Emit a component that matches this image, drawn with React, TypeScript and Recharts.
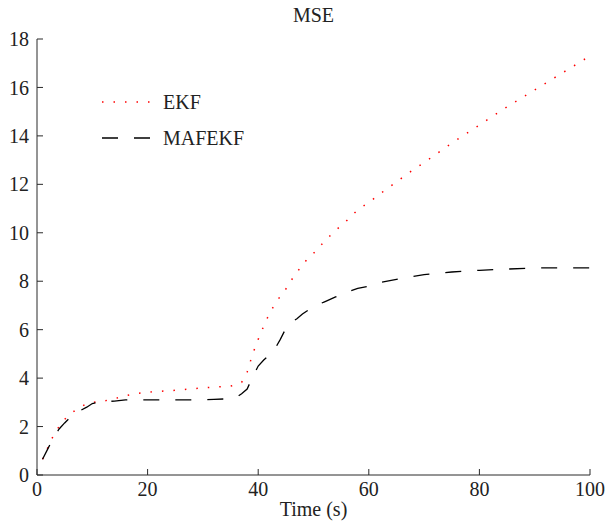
import { LineChart, Line, XAxis, YAxis } from "recharts";

// time samples (s)
const time = [
  1, 2, 3, 4, 5, 6, 7, 8, 9, 10, 12, 14, 16, 18, 20, 24, 28, 32, 35, 36, 37, 38,
  39, 40, 41, 42, 43, 44, 45, 46, 47, 48, 50, 52, 54, 56, 58, 60, 62, 65, 68, 70,
  75, 80, 85, 90, 95, 100,
];

const ekf = [
  0.65, 1.15, 1.65, 2.0, 2.3, 2.52, 2.68, 2.82, 2.95, 3.0, 3.05, 3.15, 3.27, 3.36,
  3.42, 3.48, 3.56, 3.63, 3.67, 3.72, 3.82, 4.25, 5.0, 5.6, 6.15, 6.65, 7.05, 7.38,
  7.68, 8.05, 8.35, 8.7, 9.15, 9.65, 10.1, 10.5, 10.95, 11.25, 11.6, 12.1, 12.6,
  12.9, 13.7, 14.45, 15.2, 15.9, 16.6, 17.3,
];

const mafekf = [
  0.65, 1.1, 1.55, 1.9, 2.15, 2.38, 2.55, 2.68, 2.8, 2.95, 3.03, 3.05, 3.1, 3.1,
  3.1, 3.1, 3.1, 3.12, 3.15, 3.2, 3.35, 3.55, 4.05, 4.5, 4.75, 4.95, 5.2, 5.6,
  6.05, 6.3, 6.45, 6.65, 6.95, 7.15, 7.35, 7.55, 7.7, 7.8, 7.95, 8.08, 8.2, 8.27,
  8.38, 8.45, 8.5, 8.55, 8.55, 8.55,
];

const xTicks = [0, 20, 40, 60, 80, 100];
const yTicks = [0, 2, 4, 6, 8, 10, 12, 14, 16, 18];

const data = time.map((t, i) => ({ t, ekf: ekf[i], mafekf: mafekf[i] }));

const FONT = "Liberation Serif, Times New Roman, serif";
const INK = "#222";
const AXIS = "#2a2a2a";
const EKF_DASH = "1.5 10";
const MAF_DASH = "16 16";

const textStyle = { fontSize: 20, fill: INK, fontFamily: FONT };
const tickStyle = { ...textStyle, style: { fontFamily: FONT } };

export default function App() {
  return (
    <div
      style={{
        position: "absolute",
        left: 0,
        top: 0,
        width: 608,
        height: 521,
        background: "#fff",
        fontFamily: FONT,
      }}
    >
      <LineChart
        width={608}
        height={521}
        data={data}
        margin={{ top: 39, right: 18, left: 0, bottom: 0 }}
        style={{ fontFamily: FONT }}
      >
        <XAxis
          xAxisId="b"
          dataKey="t"
          type="number"
          domain={[0, 100]}
          ticks={xTicks}
          height={46}
          tickSize={-6}
          tickMargin={13}
          stroke={AXIS}
          tick={tickStyle}
          label={{
            value: "Time (s)",
            position: "insideBottom",
            offset: 5,
            style: textStyle,
          }}
        />
        <XAxis
          xAxisId="t"
          dataKey="t"
          type="number"
          orientation="top"
          domain={[0, 100]}
          ticks={xTicks}
          height={0}
          tickSize={-6}
          tick={false}
          stroke={AXIS}
        />
        <YAxis
          yAxisId="l"
          type="number"
          domain={[0, 18]}
          ticks={yTicks}
          width={37}
          tickSize={-6}
          tickMargin={14}
          stroke={AXIS}
          tick={tickStyle}
        />
        <YAxis
          yAxisId="r"
          type="number"
          orientation="right"
          domain={[0, 18]}
          ticks={yTicks}
          width={0}
          tickSize={-6}
          tick={false}
          stroke={AXIS}
        />
        <Line
          xAxisId="b"
          yAxisId="l"
          type="linear"
          dataKey="ekf"
          stroke="#ff0000"
          strokeWidth={1.5}
          strokeDasharray={EKF_DASH}
          dot={false}
          isAnimationActive={false}
        />
        <Line
          xAxisId="b"
          yAxisId="l"
          type="linear"
          dataKey="mafekf"
          stroke="#000"
          strokeWidth={1.3}
          strokeDasharray={MAF_DASH}
          dot={false}
          isAnimationActive={false}
        />
      </LineChart>

      {/* title */}
      <div
        style={{
          position: "absolute",
          left: 37,
          width: 553,
          top: 3,
          textAlign: "center",
          fontSize: 20,
          color: INK,
          lineHeight: "24px",
        }}
      >
        MSE
      </div>

      {/* legend */}
      <svg
        width={200}
        height={70}
        style={{ position: "absolute", left: 95, top: 85, fontFamily: FONT }}
      >
        <line x1={7} y1={17} x2={58} y2={17} stroke="#ff0000" strokeWidth={1.5} strokeDasharray={EKF_DASH} />
        <text x={68} y={24} fontSize={20} fill={INK} fontFamily={FONT}>
          EKF
        </text>
        <line x1={7} y1={53} x2={57} y2={53} stroke="#000" strokeWidth={1.3} strokeDasharray={MAF_DASH} />
        <text x={68} y={60} fontSize={20} fill={INK} fontFamily={FONT}>
          MAFEKF
        </text>
      </svg>
    </div>
  );
}
